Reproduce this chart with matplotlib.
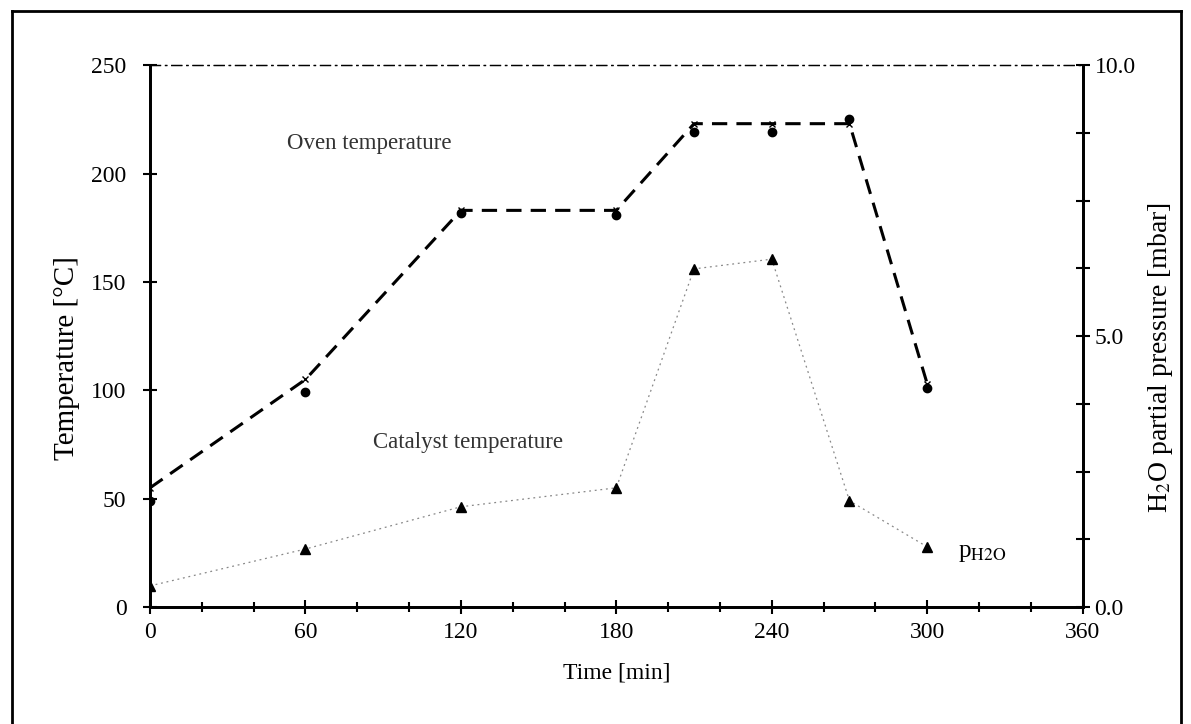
import matplotlib.pyplot as plt
from matplotlib.lines import Line2D

plt.rcParams["font.family"] = ["Liberation Serif", "DejaVu Serif"]
plt.rcParams["mathtext.fontset"] = "stix"

# data
time_min = [0, 60, 120, 180, 210, 240, 270, 300]
oven_temp = [55, 105, 183, 183, 223, 223, 223, 103]
catalyst_temp = [49, 99, 182, 181, 219, 219, 225, 101]
p_h2o = [0.39, 1.07, 1.85, 2.2, 6.24, 6.42, 1.96, 1.11]

x_ticks = [0, 60, 120, 180, 240, 300, 360]
t_ticks = [0, 50, 100, 150, 200, 250]

fig = plt.figure(figsize=(11.91, 7.24), dpi=100)
ax = fig.add_axes([0.126, 0.1616, 0.783, 0.7484])
ax2 = ax.twinx()

ax.plot(time_min, oven_temp, color="black", lw=2.2, ls=(0, (5, 3)),
        marker="x", ms=4, mew=1)
ax.plot(time_min, catalyst_temp, ls="none", marker="o", ms=6, color="black")
ax2.plot(time_min, p_h2o, color="#888888", lw=0.9, ls=(0, (1.5, 3)),
         marker="^", ms=7, mfc="black", mec="black")

ax.set_xlim(0, 360)
ax.set_ylim(0, 250)
ax2.set_ylim(0, 10)

ax.set_xticks(x_ticks)
ax.set_xticks(range(0, 361, 20), minor=True)
ax.set_yticks(t_ticks)
ax2.set_yticks([0, 1.25, 2.5, 3.75, 5, 6.25, 7.5, 8.75, 10])
ax2.set_yticklabels(["0.0", "", "", "", "5.0", "", "", "", "10.0"])

for a in (ax, ax2):
    a.tick_params(labelsize=17, direction="inout", length=10, width=1.5)
    a.tick_params(which="minor", direction="inout", length=7, width=1.5)
    for s in ("left", "right", "bottom"):
        a.spines[s].set_linewidth(2)
    a.spines["top"].set_linewidth(0.9)
    a.spines["top"].set_linestyle((0, (8, 4, 1, 4)))
ax.tick_params(axis="x", pad=6)
ax.tick_params(axis="y", pad=12)

ax.set_xlabel("Time [min]", fontsize=17, labelpad=14)
ax.set_ylabel("Temperature [°C]", fontsize=21)
ax.yaxis.set_label_coords(-0.075, 0.46)
ax2.set_ylabel("H$_2$O partial pressure [mbar]", fontsize=20)
ax2.yaxis.set_label_coords(1.068, 0.46)

ax.text(53, 214, "Oven temperature", fontsize=16.5, color="#333333",
        va="center")
ax.text(86, 76, "Catalyst temperature", fontsize=16.5, color="#333333",
        va="center")
ax.text(312, 25, r"p$_{\mathrm{H2O}}$", fontsize=18, va="center")

# outer frame of the scanned page
for xs, ys in (([0.010, 0.010], [0.0, 0.985]),
               ([0.010, 0.992], [0.985, 0.985]),
               ([0.992, 0.992], [0.0, 0.985])):
    fig.add_artist(Line2D(xs, ys, color="black", lw=2))

fig.savefig("out.png", dpi=100)
